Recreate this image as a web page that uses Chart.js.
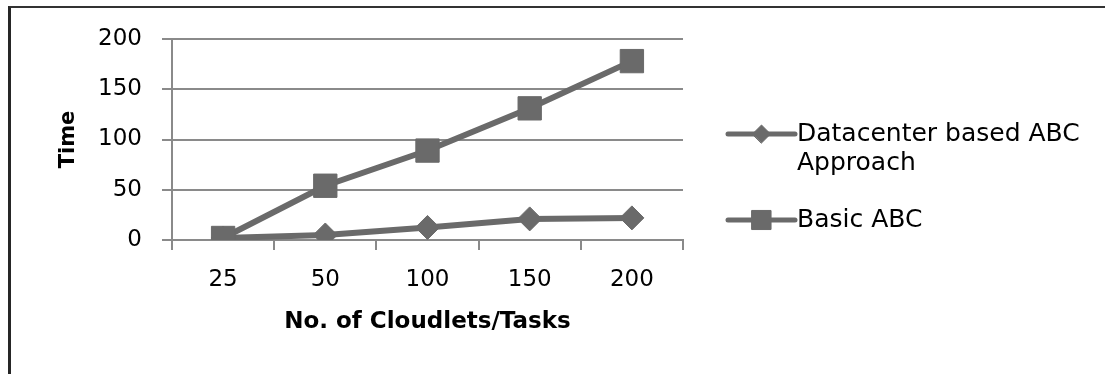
<!DOCTYPE html>
<html>
<head>
<meta charset="utf-8">
<script src="https://cdn.jsdelivr.net/npm/chart.js@4/dist/chart.umd.min.js"></script>
<style>
  html, body { margin: 0; padding: 0; background: #fff; }
  #wrap { position: relative; width: 1105px; height: 374px; overflow: hidden; }
  #frame {
    position: absolute; left: 8px; top: 6px; right: -10px; bottom: -10px;
    border-left: 3px solid #262626; border-top: 2px solid #333;
  }
  #c { position: absolute; left: 0; top: 0; }
</style>
</head>
<body>
<div id="wrap">
  <div id="frame"></div>
  <canvas id="c" width="1105" height="374"></canvas>
</div>
<script>
// Number of cloudlets / tasks on the x axis
const categories = ['25', '50', '100', '150', '200'];
// Execution time per approach
const datacenterABC = [2, 5, 12.5, 21, 22];
const basicABC = [2, 54, 89, 131, 178];
// Y axis ticks
const yTicks = [0, 50, 100, 150, 200];

const seriesNames = ['Datacenter based ABC Approach', 'Basic ABC'];
const GREY = '#6a6a6a';
const GRID = '#8a8a8a';
const FONT = 'DejaVu Sans';

Chart.defaults.font.family = FONT;
Chart.defaults.color = '#000';

// Legend drawn on the right, with line + marker samples and wrapped text
const sideLegend = {
  id: 'sideLegend',
  afterDraw(chart) {
    const ctx = chart.ctx;
    const x0 = 728, x1 = 795, tx = 797;
    const lineH = 29;
    const rows = [134, 220];
    const markers = [
      { pointStyle: 'rectRot', radius: 9 },
      { pointStyle: 'rect', radius: 13.5 }
    ];
    ctx.save();
    ctx.font = '25px "' + FONT + '"';
    ctx.textBaseline = 'middle';
    ctx.textAlign = 'left';
    chart.data.datasets.forEach((ds, i) => {
      const y = rows[i];
      ctx.strokeStyle = ds.borderColor;
      ctx.lineWidth = 5;
      ctx.lineCap = 'round';
      ctx.beginPath();
      ctx.moveTo(x0, y);
      ctx.lineTo(x1, y);
      ctx.stroke();
      ctx.fillStyle = ds.pointBackgroundColor;
      ctx.strokeStyle = ds.pointBorderColor;
      ctx.lineWidth = 1;
      Chart.helpers.drawPoint(ctx, { pointStyle: markers[i].pointStyle, radius: markers[i].radius, rotation: 0, borderWidth: 1 }, (x0 + x1) / 2, y);
      // word wrap
      const words = ds.label.split(' ');
      const lines = [];
      let cur = '';
      words.forEach(w => {
        const t = cur ? cur + ' ' + w : w;
        if (ctx.measureText(t).width > 300 && cur) { lines.push(cur); cur = w; } else { cur = t; }
      });
      if (cur) lines.push(cur);
      ctx.fillStyle = '#000';
      lines.forEach((ln, k) => ctx.fillText(ln, tx, y + k * lineH));
    });
    ctx.restore();
  }
};

new Chart(document.getElementById('c'), {
  type: 'line',
  data: {
    labels: categories,
    datasets: [
      {
        label: seriesNames[0],
        data: datacenterABC,
        borderColor: GREY,
        backgroundColor: GREY,
        pointBackgroundColor: GREY,
        pointBorderColor: GREY,
        borderWidth: 6,
        pointStyle: 'rectRot',
        pointRadius: 12,
        pointBorderWidth: 1,
        order: 1
      },
      {
        label: seriesNames[1],
        data: basicABC,
        borderColor: GREY,
        backgroundColor: GREY,
        pointBackgroundColor: GREY,
        pointBorderColor: GREY,
        borderWidth: 6,
        pointStyle: 'rect',
        pointRadius: 16.5,
        pointBorderWidth: 1,
        order: 0
      }
    ]
  },
  options: {
    responsive: false,
    animation: false,
    layout: { padding: { top: 39, right: 422, left: 0, bottom: 0 } },
    plugins: { legend: { display: false }, tooltip: { enabled: false } },
    scales: {
      x: {
        offset: true,
        afterFit(scale) { scale.height = 134; },
        grid: { offset: true, drawOnChartArea: false, drawTicks: true, tickLength: 10, color: GRID, lineWidth: 2 },
        border: { display: true, color: GRID, width: 2 },
        ticks: { font: { size: 23 }, padding: 16, color: '#000', maxRotation: 0 },
        title: { display: true, text: 'No. of Cloudlets/Tasks', font: { size: 23, weight: 'bold' }, padding: { top: 0, bottom: 38 }, color: '#000' }
      },
      y: {
        min: 0,
        max: 200,
        afterFit(scale) { scale.width = 172; },
        afterBuildTicks(scale) { scale.ticks = yTicks.map(v => ({ value: v })); },
        grid: { color: GRID, lineWidth: 2, tickLength: 10, drawTicks: true },
        border: { display: true, color: GRID, width: 2 },
        ticks: { font: { size: 23 }, padding: 20, color: '#000' },
        title: { display: true, text: 'Time', font: { size: 21, weight: 'bold' }, padding: { top: 56, bottom: 0 }, color: '#000' }
      }
    }
  },
  plugins: [sideLegend]
});
</script>
</body>
</html>
